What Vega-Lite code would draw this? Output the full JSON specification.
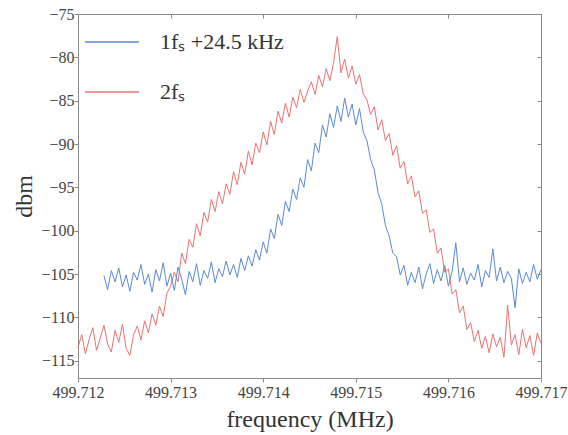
{
"$schema": "https://vega.github.io/schema/vega-lite/v6.json",
"width": 463, "height": 364,
"autosize": "none",
"padding": {"left": 78, "top": 14, "right": 27, "bottom": 57},
"background": "white",
"config": {"view": {"stroke": "#8a8a8a", "strokeWidth": 1}, "font": "'Liberation Serif', 'Times New Roman', serif",
  "axis": {"labelFont": "'Liberation Serif', 'Times New Roman', serif", "labelFontSize": 16, "labelColor": "#444", "labelFlush": false, "titleFont": "'Liberation Serif', 'Times New Roman', serif", "titleFontSize": 24, "titleFontWeight": "normal", "titleColor": "#333", "domain": false, "grid": false, "tickColor": "#8a8a8a", "tickSize": 4}},
"data": {"values": [
{"f":499.712,"r":-113.5},{"f":499.71204,"r":-112.0},{"f":499.71208,"r":-114.2},{"f":499.71212,"r":-112.6},{"f":499.71216,"r":-111.2},{"f":499.7122,"r":-113.8},{"f":499.71224,"r":-112.4},
{"f":499.71228,"r":-110.9,"b":-105.2},{"f":499.71232,"r":-113.1,"b":-106.8},{"f":499.71236,"r":-114.0,"b":-104.6},{"f":499.7124,"r":-111.5,"b":-105.9},{"f":499.71244,"r":-112.9,"b":-104.3},{"f":499.71248,"r":-110.8,"b":-106.5},{"f":499.71252,"r":-113.6,"b":-105.1},{"f":499.71256,"r":-114.4,"b":-107.0},{"f":499.7126,"r":-112.0,"b":-104.8},{"f":499.71264,"r":-111.0,"b":-105.7},{"f":499.71268,"r":-112.6,"b":-103.9},{"f":499.71272,"r":-110.4,"b":-106.2},{"f":499.71276,"r":-111.8,"b":-105.0},{"f":499.7128,"r":-109.6,"b":-107.1},{"f":499.71284,"r":-110.9,"b":-104.5},{"f":499.71288,"r":-108.7,"b":-105.8},{"f":499.71292,"r":-109.9,"b":-103.7},{"f":499.71296,"r":-107.2,"b":-106.4},
{"f":499.713,"r":-106.4,"b":-104.9},{"f":499.71304,"r":-104.8,"b":-106.9},{"f":499.71308,"r":-105.9,"b":-104.2},{"f":499.71312,"r":-102.6,"b":-105.6},{"f":499.71316,"r":-103.8,"b":-107.4},{"f":499.7132,"r":-101.0,"b":-104.7},{"f":499.71324,"r":-101.9,"b":-105.9},{"f":499.71328,"r":-99.2,"b":-103.8},{"f":499.71332,"r":-100.6,"b":-106.3},{"f":499.71336,"r":-97.9,"b":-104.6},{"f":499.7134,"r":-99.0,"b":-105.5},{"f":499.71344,"r":-96.4,"b":-103.6},{"f":499.71348,"r":-97.8,"b":-106.0},{"f":499.71352,"r":-95.5,"b":-104.4},{"f":499.71356,"r":-96.9,"b":-105.3},{"f":499.7136,"r":-94.6,"b":-103.5},{"f":499.71364,"r":-95.8,"b":-105.1},{"f":499.71368,"r":-93.2,"b":-103.9},{"f":499.71372,"r":-94.7,"b":-105.4},{"f":499.71376,"r":-92.1,"b":-103.2},{"f":499.7138,"r":-93.5,"b":-104.6},{"f":499.71384,"r":-90.8,"b":-102.9},{"f":499.71388,"r":-92.4,"b":-104.1},{"f":499.71392,"r":-89.9,"b":-102.2},{"f":499.71396,"r":-91.0,"b":-103.4},
{"f":499.714,"r":-88.6,"b":-101.3},{"f":499.71404,"r":-90.1,"b":-102.6},{"f":499.71408,"r":-87.4,"b":-99.8},{"f":499.71412,"r":-88.9,"b":-100.9},{"f":499.71416,"r":-86.2,"b":-98.1},{"f":499.7142,"r":-87.6,"b":-99.4},{"f":499.71424,"r":-85.3,"b":-96.6},{"f":499.71428,"r":-86.9,"b":-97.8},{"f":499.71432,"r":-84.6,"b":-95.2},{"f":499.71436,"r":-85.8,"b":-96.4},{"f":499.7144,"r":-83.7,"b":-93.9},{"f":499.71444,"r":-85.2,"b":-95.0},{"f":499.71448,"r":-83.9,"b":-91.8},{"f":499.71452,"r":-82.8,"b":-93.1},{"f":499.71456,"r":-84.3,"b":-89.9},{"f":499.7146,"r":-82.1,"b":-91.0},{"f":499.71464,"r":-83.4,"b":-87.8},{"f":499.71468,"r":-81.3,"b":-89.2},{"f":499.71472,"r":-82.7,"b":-86.5},{"f":499.71476,"r":-80.6,"b":-88.1},{"f":499.7148,"r":-77.6,"b":-85.6},{"f":499.71484,"r":-81.8,"b":-87.4},{"f":499.71488,"r":-80.2,"b":-84.7},{"f":499.71492,"r":-82.4,"b":-86.9},{"f":499.71496,"r":-81.0,"b":-85.4},
{"f":499.715,"r":-83.1,"b":-87.8},{"f":499.71504,"r":-82.0,"b":-85.9},{"f":499.71508,"r":-84.2,"b":-88.6},{"f":499.71512,"r":-84.9,"b":-89.6},{"f":499.71516,"r":-86.6,"b":-91.8},{"f":499.7152,"r":-85.7,"b":-93.0},{"f":499.71524,"r":-88.4,"b":-95.6},{"f":499.71528,"r":-87.2,"b":-96.9},{"f":499.71532,"r":-89.6,"b":-99.4},{"f":499.71536,"r":-88.8,"b":-100.6},{"f":499.7154,"r":-91.3,"b":-102.6},{"f":499.71544,"r":-90.2,"b":-103.0},{"f":499.71548,"r":-92.8,"b":-105.1},{"f":499.71552,"r":-92.0,"b":-104.0},{"f":499.71556,"r":-94.6,"b":-106.3},{"f":499.7156,"r":-93.7,"b":-104.8},{"f":499.71564,"r":-96.1,"b":-106.0},{"f":499.71568,"r":-95.4,"b":-104.2},{"f":499.71572,"r":-98.0,"b":-106.7},{"f":499.71576,"r":-97.6,"b":-105.0},{"f":499.7158,"r":-100.2,"b":-103.8},{"f":499.71584,"r":-99.8,"b":-106.1},{"f":499.71588,"r":-102.6,"b":-104.5},{"f":499.71592,"r":-102.0,"b":-105.8},{"f":499.71596,"r":-104.8,"b":-104.0},
{"f":499.716,"r":-104.4,"b":-106.4},{"f":499.71604,"r":-107.3,"b":-104.7},{"f":499.71608,"r":-106.8,"b":-101.4},{"f":499.71612,"r":-109.5,"b":-105.9},{"f":499.71616,"r":-108.7,"b":-104.3},{"f":499.7162,"r":-111.4,"b":-106.2},{"f":499.71624,"r":-110.6,"b":-104.9},{"f":499.71628,"r":-112.8,"b":-105.7},{"f":499.71632,"r":-111.5,"b":-103.9},{"f":499.71636,"r":-113.6,"b":-106.5},{"f":499.7164,"r":-112.2,"b":-104.6},{"f":499.71644,"r":-114.1,"b":-105.4},{"f":499.71648,"r":-111.9,"b":-102.1},{"f":499.71652,"r":-113.4,"b":-105.8},{"f":499.71656,"r":-112.3,"b":-104.2},{"f":499.7166,"r":-114.6,"b":-106.0},{"f":499.71664,"r":-108.6,"b":-104.7},{"f":499.71668,"r":-113.2,"b":-105.5},{"f":499.71672,"r":-112.0,"b":-108.9},{"f":499.71676,"r":-114.3,"b":-104.4},{"f":499.7168,"r":-111.4,"b":-106.1},{"f":499.71684,"r":-113.5,"b":-104.8},{"f":499.71688,"r":-112.1,"b":-105.9},{"f":499.71692,"r":-114.4,"b":-103.9},{"f":499.71696,"r":-111.8,"b":-105.6},
{"f":499.717,"r":-113.0,"b":-104.5}
]},
"transform": [{"fold": ["b", "r"], "as": ["s", "v"]}, {"filter": "isValid(datum.v)"}],
"layer": [
 {"mark": {"type": "line", "strokeWidth": 1, "opacity": 0},
  "encoding": {
   "x": {"field": "f", "type": "quantitative", "scale": {"domain": [499.712, 499.717], "nice": false, "zero": false},
         "axis": {"orient": "top", "values": [499.712, 499.713, 499.714, 499.715, 499.716, 499.717], "labels": false, "title": null, "tickSize": -4}},
   "y": {"field": "v", "type": "quantitative", "scale": {"domain": [-117, -75], "nice": false, "zero": false},
         "axis": {"orient": "right", "values": [-115, -110, -105, -100, -95, -90, -85, -80, -75], "labels": false, "title": null, "tickSize": -4}},
   "detail": {"field": "s"}}},
 {"mark": {"type": "line", "strokeWidth": 1},
  "encoding": {
   "x": {"field": "f", "type": "quantitative", "scale": {"domain": [499.712, 499.717], "nice": false, "zero": false},
         "axis": {"orient": "bottom", "values": [499.712, 499.713, 499.714, 499.715, 499.716, 499.717], "format": ".3f", "title": "frequency (MHz)", "labelPadding": 2, "titlePadding": 7}},
   "y": {"field": "v", "type": "quantitative", "scale": {"domain": [-117, -75], "nice": false, "zero": false},
         "axis": {"orient": "left", "values": [-115, -110, -105, -100, -95, -90, -85, -80, -75], "title": "dbm", "labelPadding": 0, "titlePadding": 4}},
   "color": {"field": "s", "type": "nominal", "scale": {"domain": ["b", "r"], "range": ["#5a8ad0", "#e87373"]},
         "legend": {"orient": "none", "legendX": 6, "legendY": 0, "title": null, "symbolType": "stroke", "symbolSize": 2900, "symbolStrokeWidth": 1.5,
                    "labelFont": "'Liberation Serif', 'Times New Roman', serif", "labelFontSize": 22, "labelColor": "#333", "labelOffset": 20, "rowPadding": 11, "padding": 0,
                    "labelExpr": "datum.value == 'b' ? '1fₛ +24.5 kHz' : '2fₛ'"}}}}
],
"resolve": {"axis": {"x": "independent", "y": "independent"}}
}
